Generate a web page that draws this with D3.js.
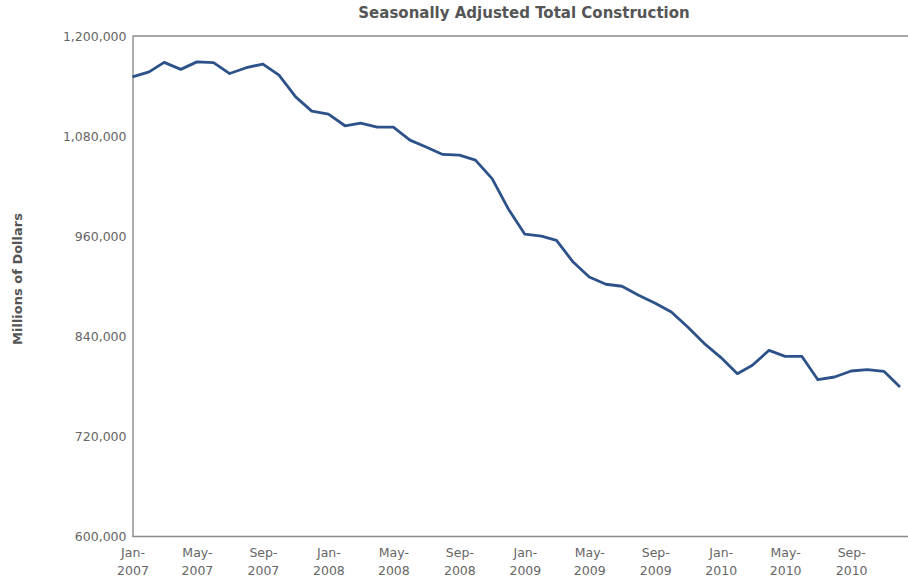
<!DOCTYPE html>
<html>
<head>
<meta charset="utf-8">
<script src="https://cdn.jsdelivr.net/npm/d3@7"></script>
<style>
    body { margin: 0; background: #fff; }
    svg { display: block; font-family: "DejaVu Sans", Verdana, sans-serif; }
</style>
</head>
<body>
<svg id="chart" width="908" height="578"></svg>
<script>
const months = [
    "2007-01", "2007-02", "2007-03", "2007-04", "2007-05", "2007-06", "2007-07", "2007-08", "2007-09", "2007-10", "2007-11", "2007-12",
    "2008-01", "2008-02", "2008-03", "2008-04", "2008-05", "2008-06", "2008-07", "2008-08", "2008-09", "2008-10", "2008-11", "2008-12",
    "2009-01", "2009-02", "2009-03", "2009-04", "2009-05", "2009-06", "2009-07", "2009-08", "2009-09", "2009-10", "2009-11", "2009-12",
    "2010-01", "2010-02", "2010-03", "2010-04", "2010-05", "2010-06", "2010-07", "2010-08", "2010-09", "2010-10", "2010-11", "2010-12"
];
const construction = [
    1151000, 1157000, 1168400, 1160000, 1169000, 1168000, 1155000, 1162000, 1166400, 1153000, 1127000, 1110000,
    1106400, 1092400, 1095600, 1090800, 1090800, 1075200, 1067000, 1058000, 1057200, 1051200, 1029000, 993000,
    962400, 960000, 955000, 929000, 911200, 902400, 900000, 889200, 879600, 869200, 850800, 831600,
    814800, 795200, 805200, 823200, 816000, 816000, 788000, 791200, 798400, 800000, 798000, 779200
];
const yTicks = [600000, 720000, 840000, 960000, 1080000, 1200000];
const xTickMonths = ["2007-01", "2007-05", "2007-09", "2008-01", "2008-05", "2008-09",
    "2009-01", "2009-05", "2009-09", "2010-01", "2010-05", "2010-09"];

const svg = d3.select("#chart");
const parse = d3.timeParse("%Y-%m");
const data = months.map((m, i) => ({ date: parse(m), value: construction[i] }));

const plotLeft = 132.5, plotRight = 900, plotTop = 36, plotBottom = 536.5;

const x = d3.scaleTime()
    .domain([parse("2007-01"), parse("2010-12")])
    .range([plotLeft, plotRight]);
const y = d3.scaleLinear()
    .domain([600000, 1200000])
    .range([plotBottom, plotTop]);

// frame: top, left, bottom (no right edge)
svg.append("line")
    .attr("x1", plotLeft).attr("x2", 908)
    .attr("y1", plotTop).attr("y2", plotTop)
    .attr("stroke", "#8a8a8a").attr("stroke-width", 1.6);

const yAxis = svg.append("g")
    .attr("transform", `translate(${plotLeft},0)`)
    .call(d3.axisLeft(y).tickValues(yTicks).tickSize(0).tickPadding(6).tickFormat(d3.format(",")));
yAxis.select(".domain").attr("stroke", "#8a8a8a").attr("stroke-width", 1.4);
yAxis.selectAll("text")
    .attr("fill", "#666")
    .style("font-size", "12.5px")
    .style("font-family", "'DejaVu Sans', Verdana, sans-serif");

const xAxis = svg.append("g")
    .attr("transform", `translate(0,${plotBottom})`)
    .call(d3.axisBottom(x).tickValues(xTickMonths.map(parse)).tickSize(0).tickFormat(""));
xAxis.select(".domain").remove();
svg.append("line")
    .attr("x1", plotLeft).attr("x2", 908)
    .attr("y1", plotBottom).attr("y2", plotBottom)
    .attr("stroke", "#8a8a8a").attr("stroke-width", 1.4);

const fmtMon = d3.timeFormat("%b-");
const fmtYear = d3.timeFormat("%Y");
xAxis.selectAll(".tick").each(function(d) {
    const t = d3.select(this).append("text")
        .attr("fill", "#666")
        .attr("text-anchor", "middle")
        .style("font-size", "12.5px")
        .style("font-family", "'DejaVu Sans', Verdana, sans-serif");
    t.append("tspan").attr("x", 0).attr("y", 20).text(fmtMon(d));
    t.append("tspan").attr("x", 0).attr("y", 38).text(fmtYear(d));
});

const line = d3.line()
    .x(d => x(d.date))
    .y(d => y(d.value));

svg.append("path")
    .datum(data)
    .attr("d", line)
    .attr("fill", "none")
    .attr("stroke", "#2d5289")
    .attr("stroke-width", 2.8)
    .attr("stroke-linejoin", "round");

svg.append("text")
    .attr("x", 524).attr("y", 18)
    .attr("text-anchor", "middle")
    .attr("fill", "#555")
    .style("font-size", "15px")
    .style("font-weight", "bold")
    .text("Seasonally Adjusted Total Construction");

svg.append("text")
    .attr("transform", "translate(22,279) rotate(-90)")
    .attr("text-anchor", "middle")
    .attr("fill", "#555")
    .style("font-size", "13px")
    .style("font-weight", "bold")
    .text("Millions of Dollars");
</script>
</body>
</html>
